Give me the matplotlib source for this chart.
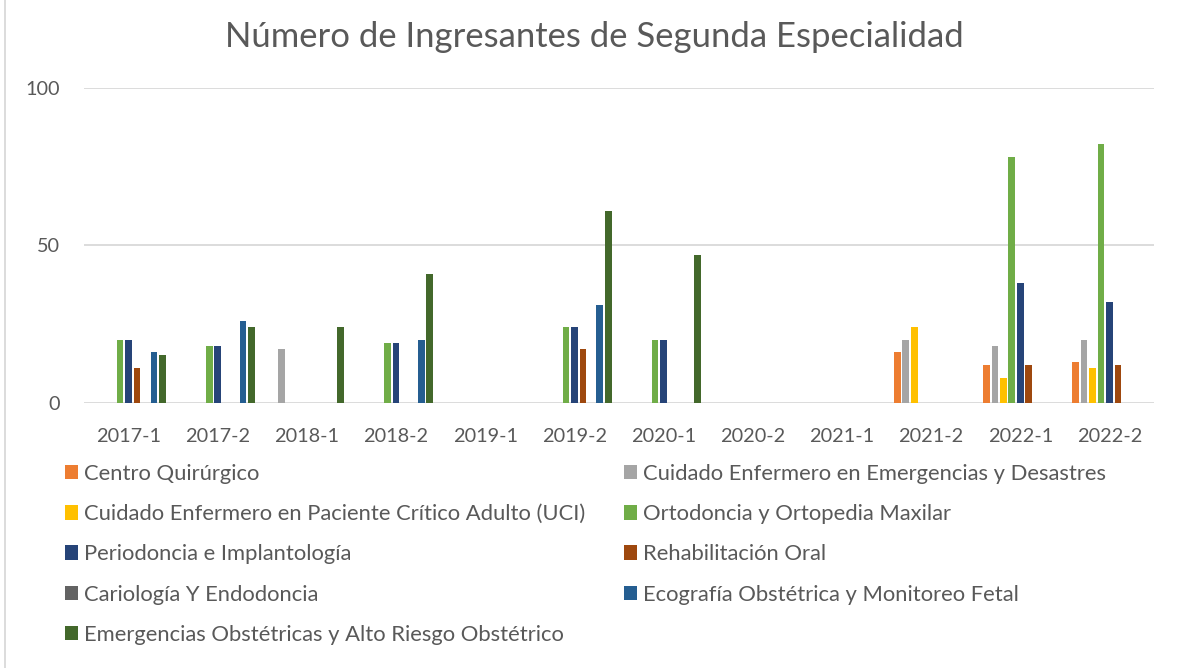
import numpy as np
import matplotlib
matplotlib.use("Agg")
import matplotlib.pyplot as plt
from matplotlib.lines import Line2D

plt.rcParams['font.family'] = ['Lato', 'DejaVu Sans']

categories = ["2017-1", "2017-2", "2018-1", "2018-2", "2019-1", "2019-2",
              "2020-1", "2020-2", "2021-1", "2021-2", "2022-1", "2022-2"]

series_names = [
    "Centro Quirúrgico",
    "Cuidado Enfermero en Emergencias y Desastres",
    "Cuidado Enfermero en Paciente Crítico Adulto (UCI)",
    "Ortodoncia y Ortopedia Maxilar",
    "Periodoncia e Implantología",
    "Rehabilitación Oral",
    "Cariología Y Endodoncia",
    "Ecografía Obstétrica y Monitoreo Fetal",
    "Emergencias Obstétricas y Alto Riesgo Obstétrico",
]

centro_quirurgico = [0, 0, 0, 0, 0, 0, 0, 0, 0, 16, 12, 13]
cuidado_emergencias = [0, 0, 17, 0, 0, 0, 0, 0, 0, 20, 18, 20]
cuidado_uci = [0, 0, 0, 0, 0, 0, 0, 0, 0, 24, 8, 11]
ortodoncia = [20, 18, 0, 19, 0, 24, 20, 0, 0, 0, 78, 82]
periodoncia = [20, 18, 0, 19, 0, 24, 20, 0, 0, 0, 38, 32]
rehabilitacion = [11, 0, 0, 0, 0, 17, 0, 0, 0, 0, 12, 12]
cariologia = [0, 0, 0, 0, 0, 0, 0, 0, 0, 0, 0, 0]
ecografia = [16, 26, 0, 20, 0, 31, 0, 0, 0, 0, 0, 0]
emergencias_obst = [15, 24, 24, 41, 0, 61, 47, 0, 0, 0, 0, 0]

series_values = [centro_quirurgico, cuidado_emergencias, cuidado_uci, ortodoncia,
                 periodoncia, rehabilitacion, cariologia, ecografia, emergencias_obst]

colors = ["#ED7D31", "#A5A5A5", "#FFC000", "#70AD47", "#264478",
          "#9E480E", "#636363", "#255E91", "#43682B"]

W, H = 1182, 668
fig = plt.figure(figsize=(W / 100, H / 100), dpi=100)
ax = fig.add_axes([84 / W, 1 - 402.7 / H, (1154 - 84) / W, (402.7 - 87.7) / H])

text_color = "#595959"
grid_color = "#D9D9D9"

x = np.arange(len(categories))
slot = 0.0946
bw = 0.075
handles = []
for i, (vals, c, name) in enumerate(zip(series_values, colors, series_names)):
    b = ax.bar(x + (i - 4) * slot, vals, width=bw, color=c, linewidth=0, label=name)
    handles.append(b)

ax.set_xlim(-0.5, len(categories) - 0.5)
ax.set_ylim(0, 100)
ax.set_yticks([0, 50, 100])
ax.set_xticks(x)
ax.set_xticklabels(categories)
ax.yaxis.grid(True, color=grid_color, linewidth=1.3)
ax.set_axisbelow(True)
for s in ax.spines.values():
    s.set_visible(False)
ax.tick_params(axis='both', length=0, labelsize=14.3, colors=text_color)
ax.tick_params(axis='y', pad=17.5)
ax.tick_params(axis='x', pad=18)

fig.suptitle("Número de Ingresantes de Segunda Especialidad", x=0.5025, y=1 - 37 / H,
             va='center', fontsize=24.9, color=text_color)

leg_kw = dict(loc='upper left', frameon=False, fontsize=15.8, labelcolor=text_color,
              handlelength=0.63, handleheight=0.63, handletextpad=0.27,
              labelspacing=0.92, borderpad=0, borderaxespad=0)
left_idx = [0, 2, 4, 6, 8]
right_idx = [1, 3, 5, 7]
fig.legend([handles[i] for i in left_idx], [series_names[i] for i in left_idx],
           bbox_to_anchor=(64.5 / W, 1 - 464 / H), **leg_kw)
fig.legend([handles[i] for i in right_idx], [series_names[i] for i in right_idx],
           bbox_to_anchor=(623.5 / W, 1 - 464 / H), **leg_kw)

fig.add_artist(Line2D([4.5 / W, 4.5 / W], [0, 1], transform=fig.transFigure,
                      color=grid_color, linewidth=1.3))

fig.savefig("out.png", dpi=100, facecolor="white")
